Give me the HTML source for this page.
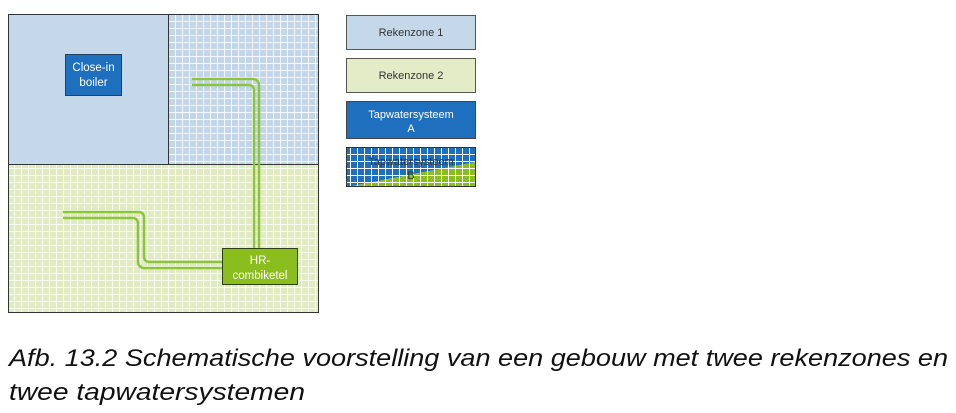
<!DOCTYPE html>
<html><head><meta charset="utf-8"><style>
html,body{margin:0;padding:0;background:#fff;width:956px;height:413px;overflow:hidden}
</style></head><body>
<svg width="956" height="413" viewBox="0 0 956 413" xmlns="http://www.w3.org/2000/svg" font-family="Liberation Sans, sans-serif">
<defs>
<pattern id="gb" width="7" height="7" patternUnits="userSpaceOnUse">
<rect width="7" height="7" fill="#c3d6e9"/><path d="M0 0.5H7M0.5 0V7" stroke="#f4f8fc" stroke-width="1"/>
</pattern>
<pattern id="gg" width="7" height="7" patternUnits="userSpaceOnUse">
<rect width="7" height="7" fill="#e1ebc2"/><path d="M0 0.5H7M0.5 0V7" stroke="#f8fbef" stroke-width="1"/>
</pattern>
<pattern id="gx" width="7" height="7" patternUnits="userSpaceOnUse">
<path d="M0 0.5H7M0.5 0V7" stroke="#fff" stroke-width="1"/>
</pattern>
</defs>
<rect x="8" y="14" width="160" height="150" fill="#c5d8ea"/>
<rect x="168" y="14" width="151" height="150" fill="url(#gb)"/>
<rect x="8" y="164" width="311" height="149" fill="url(#gg)"/>
<rect x="8.5" y="14.5" width="310" height="298" fill="none" stroke="#333" stroke-width="1"/>
<path d="M168.5 14V164M8 164.5H319" stroke="#333" stroke-width="1"/>
<g fill="none" stroke="#8cc43c" stroke-width="2.5">
<path d="M192 79H253a6 6 0 0 1 6 6V248"/>
<path d="M192 85H249a5 5 0 0 1 5 5V248"/>
<path d="M63 212H139a5 5 0 0 1 5 5V257a5 5 0 0 0 5 5H222"/>
<path d="M63 218H133a5 5 0 0 1 5 5V262a6 6 0 0 0 6 6H222"/>
</g>
<rect x="65.5" y="54.5" width="56" height="41" fill="#1f6fbf" stroke="#2a3f5a"/>
<text x="93.5" y="71" font-size="11.5" fill="#fff" text-anchor="middle">Close-in</text>
<text x="93.5" y="86" font-size="11.5" fill="#fff" text-anchor="middle">boiler</text>
<rect x="222.5" y="248.5" width="75" height="36" fill="#8bbd1f" stroke="#2f3f1a"/>
<text x="260" y="264" font-size="11.5" fill="#fff" text-anchor="middle">HR-</text>
<text x="260" y="279" font-size="11.5" fill="#fff" text-anchor="middle">combiketel</text>
<rect x="346.5" y="15.5" width="129" height="34" fill="#c5d8ea" stroke="#555"/>
<text x="411" y="36" font-size="11" fill="#333" text-anchor="middle">Rekenzone 1</text>
<rect x="346.5" y="58.5" width="129" height="34" fill="#e3ecc6" stroke="#555"/>
<text x="411" y="79" font-size="11" fill="#333" text-anchor="middle">Rekenzone 2</text>
<rect x="346.5" y="101.5" width="129" height="37" fill="#1f6fbf" stroke="#444"/>
<text x="411" y="118" font-size="11" fill="#fff" text-anchor="middle">Tapwatersysteem</text>
<text x="411" y="132" font-size="11" fill="#fff" text-anchor="middle">A</text>
<polygon points="347,148 476,148 476,162 347,187" fill="#1f6fbf"/>
<polygon points="476,162 476,187 347,187" fill="#8bbd1f"/>
<rect x="347" y="148" width="129" height="39" fill="url(#gx)"/>
<rect x="346.5" y="147.5" width="129" height="39" fill="none" stroke="#333"/>
<text x="411" y="165" font-size="11" fill="#333" text-anchor="middle">Tapwatersysteem</text>
<text x="411" y="179" font-size="11" fill="#333" text-anchor="middle">B</text>
<g font-style="italic" font-size="24" fill="#111">
<text x="9" y="366" textLength="939" lengthAdjust="spacingAndGlyphs">Afb. 13.2 Schematische voorstelling van een gebouw met twee rekenzones en</text>
<text x="9" y="400" textLength="296" lengthAdjust="spacingAndGlyphs">twee tapwatersystemen</text>
</g>
</svg>
</body></html>
